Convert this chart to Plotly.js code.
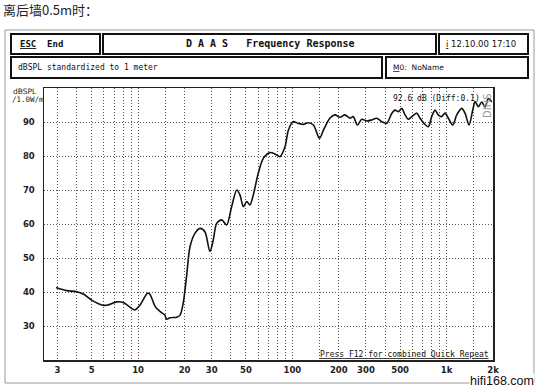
<!DOCTYPE html>
<html>
<head>
<meta charset="utf-8">
<script src="https://cdn.plot.ly/plotly-3.0.1.min.js"></script>
<style>html,body{margin:0;padding:0;background:#fff;}#chart{width:539px;height:390px;}</style>
</head>
<body>
<div id="chart"></div>
<script>
// Frequency (Hz) and level (dBSPL)
const freqHz = [2.93, 3.44, 4.00, 4.41, 5.00, 5.80, 6.25, 7.26, 8.01, 9.08, 9.54, 10.3, 11.5, 11.9, 12.9, 13.9, 14.9, 15.3, 16.1, 17.8, 18.7, 19.6, 20.6, 21.7, 23.4, 25.2, 27.1, 29.2, 30.7, 32.3, 34.8, 37.5, 40.4, 43.6, 45.8, 48.1, 50.6, 53.1, 55.8, 60.1, 64.8, 71.6, 77.2, 83.2, 89.6, 94.2, 101, 109, 118, 127, 137, 150, 159, 175, 189, 204, 219, 237, 248, 264, 282, 304, 327, 352, 380, 409, 441, 463, 487, 512, 538, 565, 595, 641, 673, 714, 761, 801, 842, 884, 930, 977, 1027, 1096, 1164, 1254, 1317, 1399, 1478, 1530, 1607, 1690, 1776, 1866, 1963];
const levelDb = [41.3, 40.4, 40.1, 39.4, 37.6, 36.2, 36.1, 37.1, 36.9, 35.2, 34.7, 36.2, 39.6, 39.4, 35.7, 34.2, 33.2, 32.0, 32.4, 32.6, 33.2, 36.7, 44.5, 53.3, 57.3, 58.7, 57.7, 51.9, 55.3, 60.2, 61.2, 59.7, 65.1, 70.0, 68.5, 65.1, 66.6, 65.6, 68.5, 74.9, 79.3, 81.0, 80.6, 79.8, 82.7, 87.6, 90.1, 89.6, 89.3, 89.8, 89.1, 85.2, 87.6, 91.1, 92.1, 91.4, 92.1, 91.1, 91.6, 89.1, 90.8, 90.3, 90.6, 91.1, 90.1, 89.6, 92.5, 93.5, 93.0, 94.0, 92.1, 90.8, 91.6, 92.6, 91.1, 89.6, 88.6, 91.6, 93.5, 92.1, 91.6, 92.6, 91.1, 89.1, 92.1, 94.0, 92.6, 89.1, 93.5, 96.0, 94.5, 95.9, 94.4, 96.9, 95.9];

// Axis ticks / grid
const xGridVals = [3,4,5,6,7,8,9,10,15,20,30,40,50,60,70,80,90,100,150,200,300,400,500,600,700,800,900,1000,1500,2000];
const xGridLabels = ['3','','5','','','','','10','','20','30','','50','','','','','100','','200','300','','500','','','','','1k','','2k'];
const yTickVals = [30,40,50,60,70,80,90];
const yTickLabels = ['30','40','50','60','70','80','90'];

// Header texts
const pageTitle = '离后墙0.5m时：';
const escText = '<u>ESC</u>  End';
const headerTitle = 'D A A S   Frequency Response';
const dateText = '<u>i</u> 12.10.00 17:10';
const unitText = 'dBSPL standardized to 1 meter';
const memoText = '<u>M</u>0:  NoName';
const yUnit1 = 'dBSPL';
const yUnit2 = '/1.0W/m';
const readout = '92.6 dB (Diff:0.1)';
const sideText = 'DIHS';
const footerText = '<u>Press F12 for combined Quick Repeat</u>';
const watermark = 'hifi168.com';

const L = 44, R = 493, T = 88, B = 360;
const W = R - L, H = B - T;
const px = X => (X - L) / W;
const py = Y => (B - Y) / H;

const mono = "DejaVu Sans Mono";
const box = (x0, y0, x1, y1, w, c) => ({type:'rect', xref:'paper', yref:'paper',
  x0: px(x0), x1: px(x1), y0: py(y1), y1: py(y0), line:{color:c, width:w}, fillcolor:'rgba(0,0,0,0)', layer:'above'});

const ann = (text, X, Y, xa, size, opts) => Object.assign({
  text, x: px(X), y: py(Y), xref:'paper', yref:'paper', xanchor: xa, yanchor:'middle',
  showarrow:false, borderpad:0, font:{family: mono, size: size, color:'#111'}
}, opts || {});

const trace = {
  x: freqHz, y: levelDb, type:'scatter', mode:'lines',
  line:{color:'#111', width:1.6, shape:'spline', smoothing:0.8},
  hoverinfo:'skip', showlegend:false
};

const layout = {
  width:539, height:390,
  margin:{l:L, r:539-R, t:T, b:390-B, pad:0},
  paper_bgcolor:'#fff', plot_bgcolor:'#fff',
  showlegend:false,
  xaxis:{
    type:'log', range:[Math.log10(2.453), Math.log10(2000)],
    tickmode:'array', tickvals:xGridVals, ticktext:xGridLabels,
    showgrid:true, gridcolor:'#555', gridwidth:1, griddash:'1px,2px',
    showline:true, linecolor:'#222', linewidth:1.5, mirror:true,
    ticks:'', zeroline:false, ticklabelstandoff:1,
    tickfont:{family:'DejaVu Sans', size:8.5, color:'#222', weight:'bold'}
  },
  yaxis:{
    range:[20,100],
    tickmode:'array', tickvals:yTickVals, ticktext:yTickLabels,
    showgrid:true, gridcolor:'#555', gridwidth:1, griddash:'1px,2px',
    showline:true, linecolor:'#222', linewidth:1.5, mirror:true,
    ticks:'', zeroline:false, ticklabelstandoff:6,
    tickfont:{family:'DejaVu Sans', size:8.5, color:'#222', weight:'bold'}
  },
  shapes:[
    box(5, 30, 534, 383, 1, '#999'),
    box(11, 34, 100, 54, 2, '#111'),
    box(103, 34, 436, 54, 2, '#111'),
    box(439, 34, 528, 54, 2, '#111'),
    box(11, 57, 382, 78, 2, '#111'),
    box(386, 57, 528, 78, 2, '#111')
  ],
  annotations:[
    ann(pageTitle, 2, 10, 'left', 13, {font:{family:'Noto Sans CJK SC', size:13, color:'#222'}}),
    ann(escText, 19, 44, 'left', 9, {font:{family:mono, size:9, color:'#111', weight:'bold'}}),
    ann(headerTitle, 270, 44, 'center', 10, {font:{family:mono, size:10, color:'#111', weight:'bold'}}),
    ann(dateText, 445, 44, 'left', 9, {font:{family:'DejaVu Sans', size:8.5, color:'#111'}}),
    ann(unitText, 17, 67, 'left', 8, {font:{family:mono, size:8, color:'#111'}}),
    ann(memoText, 392, 67, 'left', 8, {font:{family:'DejaVu Sans', size:7.5, color:'#111'}}),
    ann(yUnit1, 25, 92, 'center', 7.5, {font:{family:'DejaVu Sans', size:7.5, color:'#222'}}),
    ann(yUnit2, 28, 99.5, 'center', 7.5, {font:{family:mono, size:7.5, color:'#222'}}),
    ann(readout, 392, 98, 'left', 8, {font:{family:mono, size:8, color:'#111'}}),
    ann(sideText, 487, 106, 'center', 10, {textangle:-90, font:{family:'DejaVu Sans', size:10, color:'#999'}}),
    ann(footerText, 490, 354, 'right', 8, {font:{family:mono, size:8, color:'#111'}}),
    Object.assign(ann(watermark, 535, 389, 'right', 12.5, {font:{family:'Liberation Sans', size:12.5, color:'#111'}, bgcolor:'#fff'}), {yanchor:'bottom'})
  ]
};

Plotly.newPlot('chart', [trace], layout, {staticPlot:true, displayModeBar:false});
</script>
</body>
</html>
